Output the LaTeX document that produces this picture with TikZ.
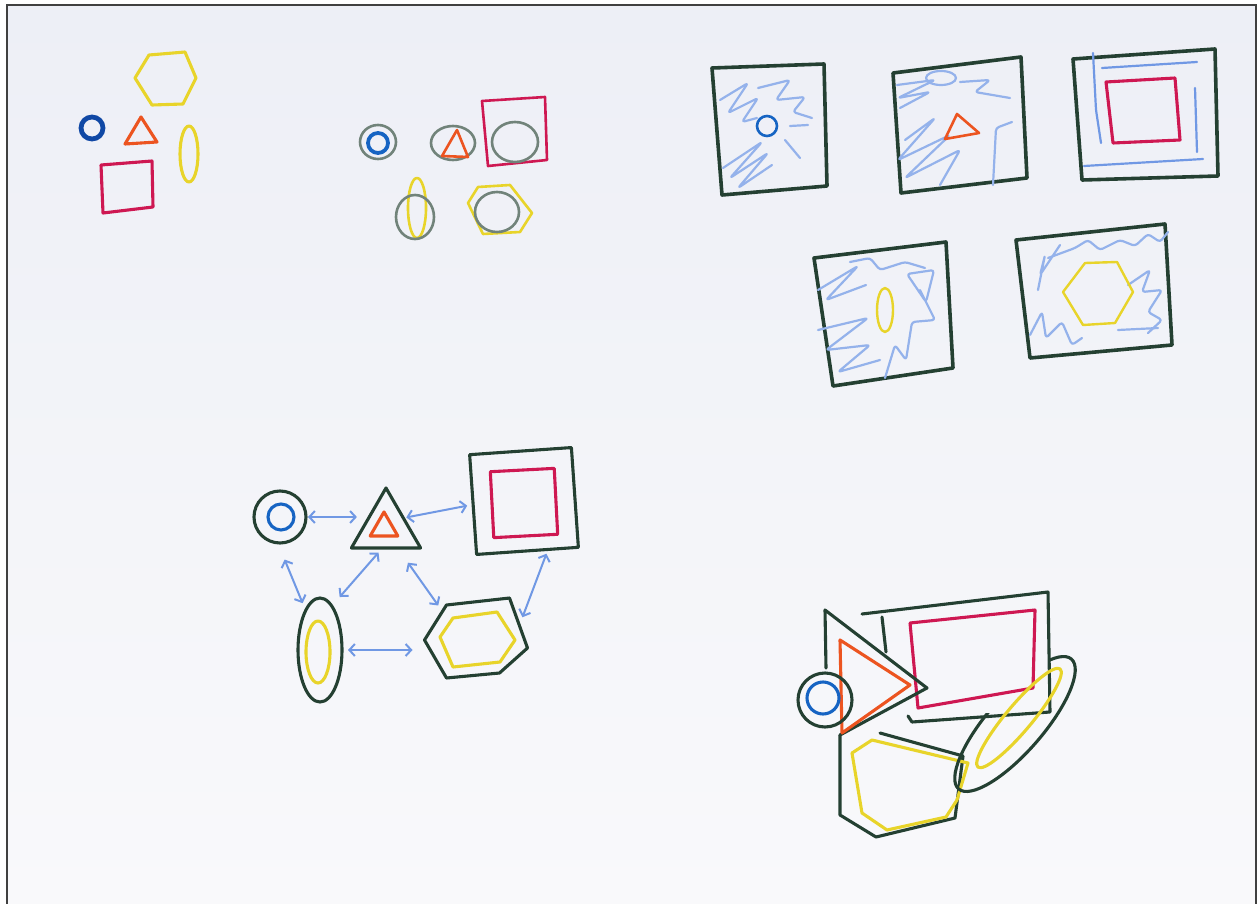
\documentclass[tikz,border=0pt]{standalone}
\usepackage{tikz}
\usetikzlibrary{arrows.meta,shapes.geometric}
\definecolor{pgreen}{RGB}{36,64,50}
\definecolor{pblue}{RGB}{22,100,195}
\definecolor{pnavy}{RGB}{16,72,165}
\definecolor{porange}{RGB}{236,84,32}
\definecolor{pred}{RGB}{206,24,82}
\definecolor{pyellow}{RGB}{232,212,42}
\definecolor{plblue}{RGB}{112,152,228}
\definecolor{papertop}{RGB}{237,239,246}
\definecolor{paperbot}{RGB}{249,249,251}
\tikzset{
  pen/.style={draw=#1,line width=3.1pt,line join=round,line cap=round},
  pen/.default={pgreen},
  soft/.style={pen=pgreen!65,line width=2.6pt},
  scrib/.style={draw=plblue!75,line width=2.2pt,line join=round,line cap=round,rounded corners=3pt},
  hub/.style={inner sep=0pt,outer sep=0pt},
  link/.style={{Straight Barb[length=5.5pt,width=12pt]}-{Straight Barb[length=5.5pt,width=12pt]},draw=plblue,line width=2pt},
}
\begin{document}
\begin{tikzpicture}[x=1pt,y=-1pt]
 \useasboundingbox (0,0) rectangle (1260,904);
 \fill[white] (0,0) rectangle (1260,904);
 \shade[top color=papertop,bottom color=paperbot] (7,5) rectangle (1256,904);
 \draw[black!75,line width=2.5pt] (7,904) -- (7,5) -- (1256,5) -- (1256,904);
 % loose shapes
 \draw[pen=pyellow] (135,78) -- (149,55) -- (185,52) -- (196,78) -- (183,104) -- (152,105) -- cycle;
 \draw[pen=pnavy,line width=4.8pt] (92,128) circle[radius=11];
 \draw[pen=porange] (125,144) -- (141,117) -- (157,142) -- cycle;
 \draw[pen=pyellow] (189,154) ellipse[x radius=9,y radius=28];
 \draw[pen=pred] (101,165) -- (152,161) -- (153,207) -- (103,213) -- cycle;
 % ringed shapes
 \draw[soft] (378,142) ellipse[x radius=18,y radius=17]; \draw[pen=pblue,line width=3.8pt] (378,143) circle[radius=10];
 \draw[soft] (453,143) ellipse[x radius=22,y radius=17]; \draw[pen=porange,line width=2.6pt] (442,156) -- (457,130) -- (468,157) -- cycle;
 \draw[pen=pred,line width=2.6pt] (482,101) -- (545,97) -- (547,160) -- (488,166) -- cycle; \draw[soft] (515,142) ellipse[x radius=23,y radius=20];
 \draw[pen=pyellow,line width=2.6pt] (417,208) ellipse[x radius=9,y radius=30]; \draw[soft] (415,217) ellipse[x radius=19,y radius=22];
 \draw[pen=pyellow,line width=2.6pt] (468,203) -- (478,187) -- (510,185) -- (532,213) -- (520,232) -- (483,234) -- cycle; \draw[soft] (497,212) ellipse[x radius=22,y radius=20];
 % framed shapes
 \draw[pen,line width=3.6pt] (712,68) -- (824,64) -- (827,186) -- (722,195) -- cycle;
 \draw[scrib] (720,100) -- (748,83) -- (728,113) -- (758,98) -- (742,122) -- (757,118);
 \draw[scrib] (758,88) -- (790,80) -- (776,100) -- (805,97) -- (793,112) -- (812,118); \draw[scrib] (790,126) -- (808,125);
 \draw[scrib] (723,168) -- (762,142) -- (730,178) -- (768,153) -- (738,188) -- (772,165); \draw[scrib] (785,140) -- (800,158);
 \draw[pen=pblue,line width=2.6pt] (767,126) circle[radius=10];
 \draw[pen,line width=3.6pt] (893,73) -- (1021,57) -- (1027,178) -- (901,193) -- cycle;
 \draw[scrib] (941,78) ellipse[x radius=15,y radius=7];
 \draw[scrib] (897,85) -- (935,80) -- (898,98) -- (930,92) -- (900,108); \draw[scrib] (960,82) -- (990,80) -- (975,92) -- (1010,98);
 \draw[scrib] (905,140) -- (935,118) -- (898,160) -- (950,135) -- (905,178) -- (960,150) -- (940,185);
 \draw[scrib] (1012,122) -- (996,128) -- (993,185);
 \draw[pen=porange,line width=2.6pt] (945,139) -- (957,114) -- (979,133) -- cycle;
 \draw[pen,line width=3.6pt] (1073,59) -- (1215,49) -- (1218,176) -- (1082,180) -- cycle;
 \draw[scrib,draw=plblue] (1102,68) -- (1197,62); \draw[scrib,draw=plblue] (1093,53) -- (1096,110) -- (1101,143);
 \draw[scrib,draw=plblue] (1195,88) -- (1197,152); \draw[scrib,draw=plblue] (1084,166) -- (1203,159);
 \draw[pen=pred] (1106,82) -- (1175,78) -- (1180,140) -- (1113,143) -- cycle;
 \draw[pen,line width=3.6pt] (814,258) -- (946,242) -- (953,368) -- (833,386) -- cycle;
 \draw[scrib] (818,290) -- (858,266) -- (826,300) -- (866,285); \draw[scrib] (850,262) -- (870,258) -- (880,270) -- (905,262) -- (925,268);
 \draw[scrib] (907,274) -- (934,270) -- (926,302) -- cycle; \draw[scrib] (920,290) -- (935,320) -- (912,322) -- (906,360) -- (895,345) -- (885,378);
 \draw[scrib] (818,330) -- (868,318) -- (826,350) -- (870,345) -- (838,372) -- (880,360);
 \draw[pen=pyellow,line width=2.4pt] (885,310) ellipse[x radius=8,y radius=22];
 \draw[pen,line width=3.6pt] (1016,240) -- (1165,224) -- (1172,345) -- (1030,358) -- cycle;
 \draw[scrib] (1048,258) -- (1075,248) -- (1088,240) -- (1100,250) -- (1120,240) -- (1135,246) -- (1148,234) -- (1160,242) -- (1168,232);
 \draw[scrib] (1038,290) -- (1045,255) -- (1040,275) -- (1060,245);
 \draw[scrib] (1128,285) -- (1150,270) -- (1142,292) -- (1162,290) -- (1148,312) -- (1162,320) -- (1148,333);
 \draw[scrib] (1030,335) -- (1042,312) -- (1046,338) -- (1062,322) -- (1072,345) -- (1082,338); \draw[scrib] (1118,330) -- (1158,328);
 \draw[pen=pyellow,line width=2.4pt] (1063,292) -- (1085,263) -- (1117,262) -- (1133,292) -- (1115,323) -- (1083,325) -- cycle;
 % graph
 \node[pen,circle,hub,minimum size=52pt] (cir) at (280,517){}; \node[pen=pblue,circle,hub,minimum size=26pt] (cir-in) at (281,517){};
 \node[pen,regular polygon,regular polygon sides=3,hub,minimum size=80pt] (tri) at (386,528){};
 \node[pen=porange,regular polygon,regular polygon sides=3,hub,minimum size=32pt] (tri-in) at (384,528){};
 \node[pen,hub,minimum width=102pt,minimum height=100pt,rotate=4] (sq) at (524,501){};
 \node[pen=pred,hub,minimum width=64pt,minimum height=66pt,rotate=3] (sq-in) at (524,503){};
 \node[pen,ellipse,hub,minimum width=44pt,minimum height=104pt] (ell) at (320,650){};
 \node[pen=pyellow,ellipse,hub,minimum width=24pt,minimum height=62pt] (ell-in) at (318,652){};
 \node[hub,ellipse,minimum width=105pt,minimum height=80pt] (hex) at (477,640){};
 \draw[pen] (hex.west) -- ++(22,-35) -- ++(63,-7) -- ++(18,50) -- ++(-28,25) -- ++(-53,5) -- cycle;
 \draw[pen=pyellow] ([xshift=-37pt,yshift=3pt]hex.center) -- ++(13,-19) -- ++(44,-6) -- ++(18,28) -- ++(-15,22) -- ++(-47,5) -- cycle;
 \draw[link,shorten <=2pt,shorten >=6pt] (cir.east) -- (cir.east -| tri.180);
 \draw[link,shorten <=3pt,shorten >=6pt] (tri.30) -- (sq.west);
 \draw[link,shorten <=18pt,shorten >=8pt] (cir.-95) -- (ell.110);
 \draw[link,shorten <=6pt,shorten >=12pt] (tri.-100) -- (ell.75);
 \draw[link,shorten <=18pt,shorten >=6pt] (tri.-60) -- (hex.140);
 \draw[link,shorten <=6pt,shorten >=12pt] (ell.east) -- (ell.east -| hex.west);
 \draw[link,shorten <=2pt,shorten >=3pt] (hex.25) -- ([xshift=20pt]sq.south);
 % overlapping shapes
 \draw[pen] (862,614) -- (1048,592) -- (1050,712) -- (912,722) -- (908,716); \draw[pen] (882,617) -- (886,652);
 \draw[pen=pred] (910,623) -- (1035,610) -- (1033,688) -- (918,708) -- cycle;
 \draw[pen] (826,668) -- (825,610) -- (927,688) -- (840,735);
 \draw[pen=porange] (840,640) -- (910,685) -- (842,733) -- cycle;
 \draw[pen] (825,700) circle[radius=27]; \draw[pen=pblue] (823,698) circle[radius=16];
 \draw[pen] (840,735) -- (840,815) -- (876,837) -- (955,818) -- (963,756) -- (880,733);
 \draw[pen=pyellow] (852,753) -- (872,740) -- (968,763) -- (957,800) -- (946,817) -- (887,830) -- (862,813) -- cycle;
 \begin{scope}
  \clip (925,713) rectangle (1115,830) (1049,640) rectangle (1115,830);
  \draw[pen,rotate around={49:(1015,724)}] (1015,724) ellipse[x radius=86,y radius=28];
 \end{scope}
 \draw[pen=pyellow,rotate around={50:(1019,718)}] (1019,718) ellipse[x radius=64,y radius=13];
\end{tikzpicture}
\end{document}
